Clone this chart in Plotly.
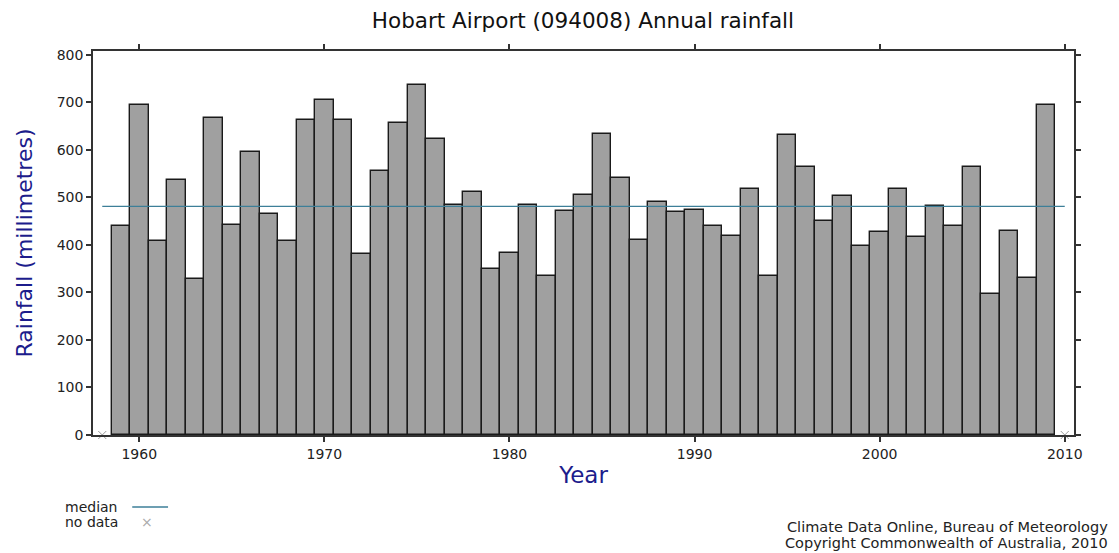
import plotly.graph_objects as go

years = list(range(1959, 2010))
rainfall = [440, 695, 408, 537, 328, 668, 442, 595, 466, 408,
            663, 705, 663, 381, 556, 656, 736, 622, 483, 512,
            350, 384, 483, 335, 471, 505, 634, 540, 411, 490,
            470, 473, 440, 418, 517, 335, 632, 563, 450, 502,
            398, 428, 517, 416, 481, 440, 563, 297, 430, 330,
            695]
median_value = 481
median_span = [1958, 2010]
no_data_years = [1958, 2010]
no_data_values = [0, 0]
x_ticks = [1960, 1970, 1980, 1990, 2000, 2010]
y_ticks = [0, 100, 200, 300, 400, 500, 600, 700, 800]

FONT = "DejaVu Sans, Verdana, sans-serif"
BLUE = "#1c1c8c"

fig = go.Figure()
fig.add_trace(go.Bar(
    x=years, y=rainfall, width=1.0,
    marker=dict(color="#a0a0a0", line=dict(color="#1a1a1a", width=1.4)),
    showlegend=False, hoverinfo="x+y"))
fig.add_trace(go.Scatter(
    x=median_span, y=[median_value, median_value], mode="lines",
    line=dict(color="#3d7f98", width=1.3), showlegend=False))
fig.add_trace(go.Scatter(
    x=no_data_years, y=no_data_values, mode="markers",
    marker=dict(symbol="x-thin", size=8, line=dict(color="#9a9a9a", width=1)),
    cliponaxis=False, showlegend=False))

# page body has an 8px margin: size the figure so it fills the remaining window
fig.update_layout(
    width=1111, height=545,
    margin=dict(l=85, r=45, t=43, b=118, autoexpand=False),
    paper_bgcolor="white", plot_bgcolor="white",
    font=dict(family=FONT, size=14, color="#222"),
    title=dict(text="Hobart Airport (094008) Annual rainfall",
               x=0.5175, xanchor="center", y=0.977, yanchor="middle",
               font=dict(size=21.5, color="#111")),
    bargap=0,
)
fig.update_xaxes(
    range=[1957.5, 2010.5], tickvals=x_ticks,
    ticks="outside", ticklen=5, tickcolor="#333", tickwidth=1.5,
    showline=True, linecolor="#333", linewidth=1.5, mirror="ticks",
    showgrid=False, zeroline=False,
    tickfont=dict(size=14, color="#222"),
    title=dict(text="Year", font=dict(size=23, color=BLUE), standoff=6))
fig.update_yaxes(
    range=[0, 808], tickvals=y_ticks,
    ticks="outside", ticklen=5, tickcolor="#333", tickwidth=1.5,
    showline=True, linecolor="#333", linewidth=1.5, mirror="ticks",
    showgrid=False, zeroline=False,
    tickfont=dict(size=14, color="#222"),
    title=dict(text="Rainfall (millimetres)", font=dict(size=22, color=BLUE), standoff=18))

# legend (text left, symbol right)
fig.add_annotation(xref="paper", yref="paper", x=-0.031, y=-0.1875, text="median",
                   showarrow=False, xanchor="left", yanchor="middle",
                   font=dict(size=14, color="#222"))
fig.add_shape(type="line", xref="paper", yref="paper", x0=0.040, x1=0.0765,
              y0=-0.1875, y1=-0.1875, line=dict(color="#3d7f98", width=1.3))
fig.add_annotation(xref="paper", yref="paper", x=-0.031, y=-0.2266, text="no data",
                   showarrow=False, xanchor="left", yanchor="middle",
                   font=dict(size=14, color="#222"))
fig.add_annotation(xref="paper", yref="paper", x=0.055, y=-0.2266, text="×",
                   showarrow=False, xanchor="center", yanchor="middle",
                   font=dict(size=14, color="#aaa"))
fig.add_annotation(xref="paper", yref="paper", x=1.0367, y=-0.2396,
                   text="Climate Data Online, Bureau of Meteorology",
                   showarrow=False, xanchor="right", yanchor="middle",
                   font=dict(size=14.5, color="#222"))
fig.add_annotation(xref="paper", yref="paper", x=1.0367, y=-0.2812,
                   text="Copyright Commonwealth of Australia, 2010",
                   showarrow=False, xanchor="right", yanchor="middle",
                   font=dict(size=14.5, color="#222"))

fig.write_html("out.html")
